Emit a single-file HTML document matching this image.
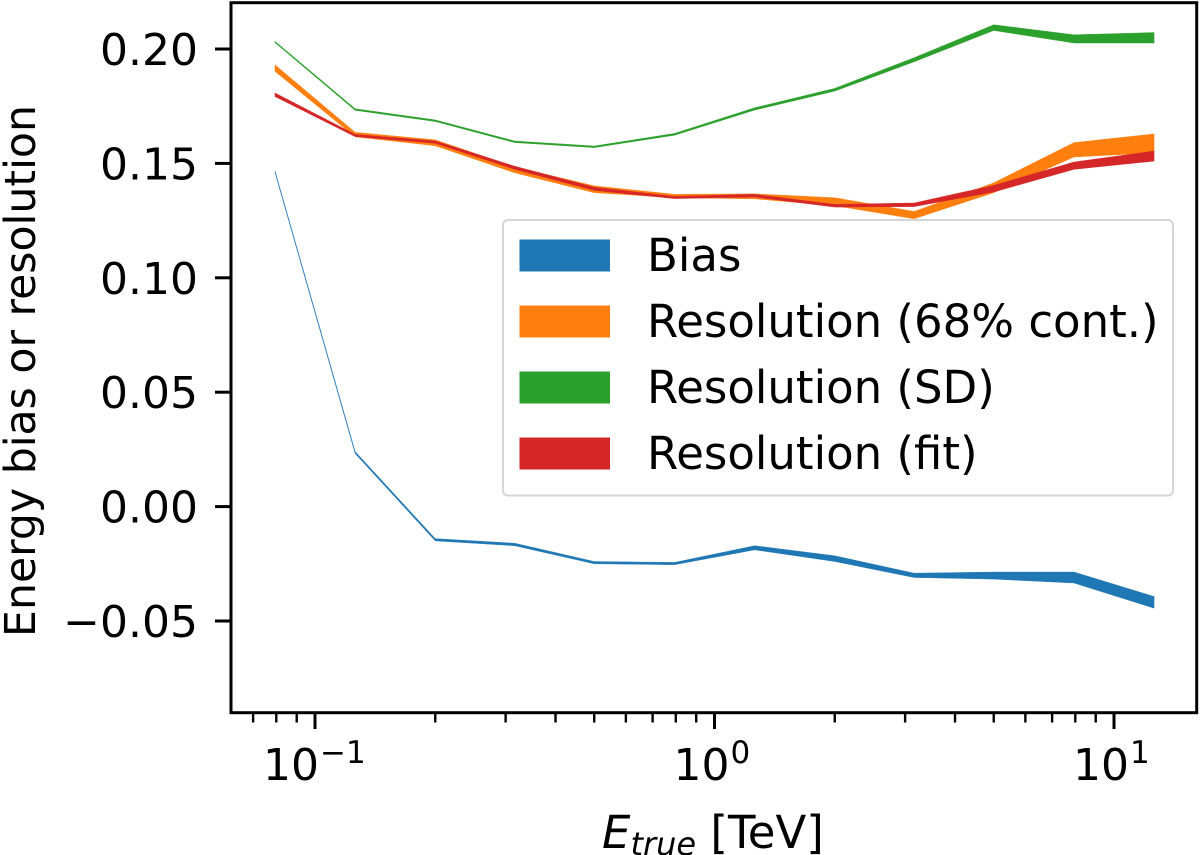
<!DOCTYPE html>
<html lang="en">
<head>
<meta charset="utf-8">
<title>Energy bias and resolution</title>
<style>
  html, body { margin: 0; padding: 0; background: #fff; width: 1200px; height: 855px; overflow: hidden; }
  svg { display: block; }
  text { font-family: "DejaVu Sans", "Liberation Sans", sans-serif; fill: #000; }
</style>
</head>
<body>
<svg id="chart" xmlns="http://www.w3.org/2000/svg" width="1200" height="855" viewBox="0 0 1200 855">
  <rect x="0" y="0" width="1200" height="855" fill="#fff"/>
  <g id="series-layer"></g>
  <g id="x-tick-layer"></g>
  <g id="y-tick-layer"></g>
  <rect x="231" y="2.7" width="965.7" height="710" fill="none" stroke="#000" stroke-width="3"/>

  <g>
    <rect x="503" y="220" width="670" height="275.5" rx="5" ry="5" fill="#fff" stroke="#d6d6d6" stroke-width="2"/>
    <rect x="519.5" y="239.5" width="90.5" height="32" fill="#1f77b4"/>
    <text x="647" y="271" font-size="45">Bias</text>
    <rect x="519.5" y="305.5" width="90.5" height="32" fill="#ff7f0e"/>
    <text x="647" y="337" font-size="45">Resolution (68% cont.)</text>
    <rect x="519.5" y="371.5" width="90.5" height="32" fill="#2ca02c"/>
    <text x="647" y="403" font-size="45">Resolution (SD)</text>
    <rect x="519.5" y="437.5" width="90.5" height="32" fill="#d62728"/>
    <text x="647" y="469" font-size="45">Resolution (fit)</text>
  </g>

  <text x="602" y="848" font-size="45"><tspan font-style="italic">E</tspan><tspan font-style="italic" font-size="32" dy="7">true</tspan><tspan dy="-7"> [TeV]</tspan></text>
  <text transform="translate(35,371) rotate(-90)" text-anchor="middle" font-size="42.6">Energy bias or resolution</text>
</svg>

<script>
const energies = [0.0794, 0.126, 0.2, 0.316, 0.5, 0.794, 1.26, 2.0, 3.16, 5.0, 7.94, 12.6];

const biasLower = [0.1460, 0.0232, -0.0150, -0.0171, -0.0250, -0.0254, -0.0189, -0.0240, -0.0310, -0.0317, -0.0334, -0.0444];
const biasUpper = [0.1468, 0.0241, -0.0140, -0.0160, -0.0240, -0.0244, -0.0171, -0.0215, -0.0291, -0.0286, -0.0286, -0.0393];

const res68Lower = [0.1902, 0.1616, 0.1577, 0.1459, 0.1372, 0.1350, 0.1345, 0.1315, 0.1258, 0.1372, 0.1528, 0.1546];
const res68Upper = [0.1931, 0.1636, 0.1603, 0.1485, 0.1402, 0.1365, 0.1367, 0.1350, 0.1290, 0.1415, 0.1591, 0.1629];

const resSdLower = [0.2028, 0.1732, 0.1683, 0.1591, 0.1569, 0.1623, 0.1733, 0.1816, 0.1944, 0.2081, 0.2026, 0.2026];
const resSdUpper = [0.2034, 0.1739, 0.1690, 0.1598, 0.1576, 0.1631, 0.1743, 0.1828, 0.1962, 0.2106, 0.2062, 0.2072];

const resFitLower = [0.1792, 0.1617, 0.1588, 0.1474, 0.1382, 0.1346, 0.1353, 0.1309, 0.1311, 0.1375, 0.1474, 0.1510];
const resFitUpper = [0.1808, 0.1627, 0.1598, 0.1488, 0.1396, 0.1356, 0.1365, 0.1321, 0.1327, 0.1404, 0.1506, 0.1554];

const yTickValues = [-0.05, 0, 0.05, 0.10, 0.15, 0.20];
const yTickLabels = ["\u22120.05", "0.00", "0.05", "0.10", "0.15", "0.20"];
const xMajorValues = [0.1, 1, 10];
const xMajorExponents = ["\u22121", "0", "1"];
const xMinorValues = [0.07, 0.08, 0.09, 0.2, 0.3, 0.4, 0.5, 0.6, 0.7, 0.8, 0.9, 2, 3, 4, 5, 6, 7, 8, 9];

const SVG_NS = "http://www.w3.org/2000/svg";

function xScale(e) {
  return 714.5 + 399.5 * Math.log10(e);
}
function yScale(v) {
  return 506.6 - 2288 * v;
}
function make(tag) {
  return document.createElementNS(SVG_NS, tag);
}
function drawBand(lower, upper, color, name) {
  const pts = [];
  energies.forEach(function (e, i) {
    pts.push(xScale(e).toFixed(2) + "," + yScale(upper[i]).toFixed(2));
  });
  for (let i = energies.length - 1; i >= 0; i--) {
    pts.push(xScale(energies[i]).toFixed(2) + "," + yScale(lower[i]).toFixed(2));
  }
  const poly = make("polygon");
  poly.setAttribute("points", pts.join(" "));
  poly.setAttribute("fill", color);
  poly.setAttribute("stroke", color);
  poly.setAttribute("stroke-width", "0.4");
  
  
  document.getElementById("series-layer").appendChild(poly);
}

drawBand(biasLower, biasUpper, "#1f77b4", "band-bias");
drawBand(res68Lower, res68Upper, "#ff7f0e", "band-resolution-68");
drawBand(resSdLower, resSdUpper, "#2ca02c", "band-resolution-sd");
drawBand(resFitLower, resFitUpper, "#d62728", "band-resolution-fit");

const yLayer = document.getElementById("y-tick-layer");
yTickValues.forEach(function (v, i) {
  const y = yScale(v);
  const tick = make("line");
  tick.setAttribute("x1", 215);
  tick.setAttribute("x2", 231);
  tick.setAttribute("y1", y);
  tick.setAttribute("y2", y);
  tick.setAttribute("stroke", "#000");
  tick.setAttribute("stroke-width", "3");
  
  
  yLayer.appendChild(tick);
  const label = make("text");
  label.setAttribute("x", 198);
  label.setAttribute("y", y + 16);
  label.setAttribute("text-anchor", "end");
  label.setAttribute("font-size", "44");
  label.textContent = yTickLabels[i];
  
  
  yLayer.appendChild(label);
});

const xLayer = document.getElementById("x-tick-layer");
xMinorValues.forEach(function (e) {
  const x = xScale(e);
  const tick = make("line");
  tick.setAttribute("x1", x);
  tick.setAttribute("x2", x);
  tick.setAttribute("y1", 712.7);
  tick.setAttribute("y2", 722.5);
  tick.setAttribute("stroke", "#000");
  tick.setAttribute("stroke-width", "2.4");
  
  
  xLayer.appendChild(tick);
});
xMajorValues.forEach(function (e, i) {
  const x = xScale(e);
  const tick = make("line");
  tick.setAttribute("x1", x);
  tick.setAttribute("x2", x);
  tick.setAttribute("y1", 712.7);
  tick.setAttribute("y2", 729);
  tick.setAttribute("stroke", "#000");
  tick.setAttribute("stroke-width", "3");
  
  
  xLayer.appendChild(tick);
  const isNeg = xMajorExponents[i].length > 1;
  const label = make("text");
  label.setAttribute("x", isNeg ? x - 52 : x - 41);
  label.setAttribute("y", 780);
  label.setAttribute("font-size", "44");
  label.textContent = "10";
  
  
  xLayer.appendChild(label);
  const sup = make("text");
  sup.setAttribute("x", isNeg ? x + 5 : x + 16);
  sup.setAttribute("y", 763);
  sup.setAttribute("font-size", "31");
  sup.textContent = xMajorExponents[i];
  
  
  xLayer.appendChild(sup);
});
</script>
</body>
</html>
